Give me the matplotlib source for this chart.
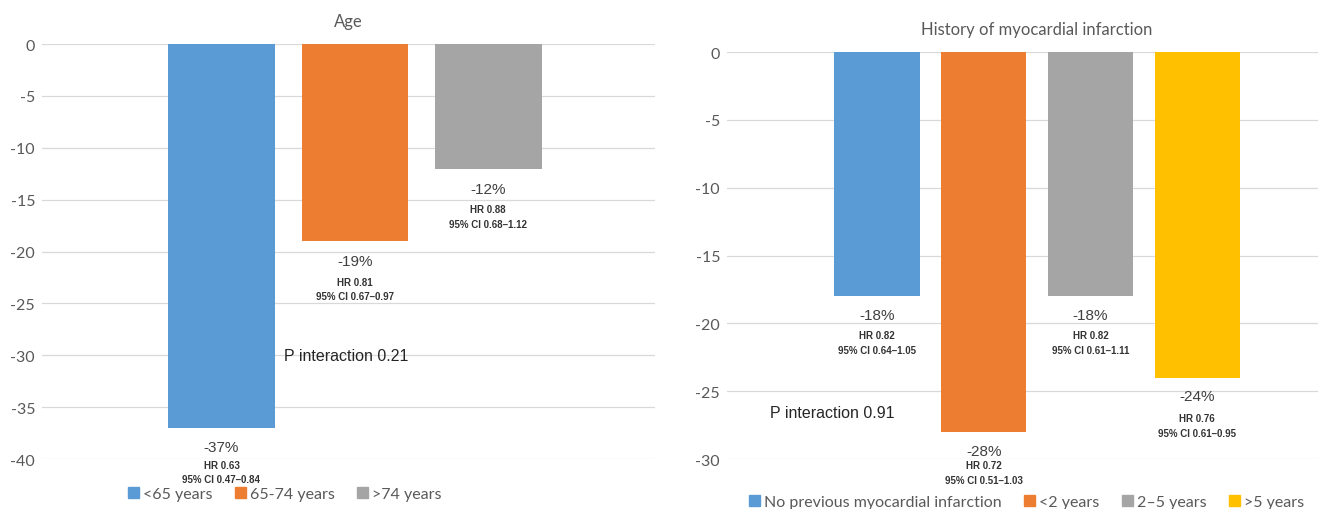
import matplotlib
matplotlib.use("Agg")
import matplotlib.pyplot as plt
from matplotlib.patches import Patch

# datos de los dos paneles
age_groups = ['<65 years', '65-74 years', '>74 years']
age_change = [-37, -19, -12]
age_hr = ['HR 0.63', 'HR 0.81', 'HR 0.88']
age_ci = ['95% CI 0.47\u20130.84', '95% CI 0.67\u20130.97', '95% CI 0.68\u20131.12']
age_p = 'P interaction 0.21'

mi_groups = ['No previous myocardial infarction', '<2 years', '2\u20135 years', '>5 years']
mi_change = [-18, -28, -18, -24]
mi_hr = ['HR 0.82', 'HR 0.72', 'HR 0.82', 'HR 0.76']
mi_ci = ['95% CI 0.64\u20131.05', '95% CI 0.51\u20131.03', '95% CI 0.61\u20131.11', '95% CI 0.61\u20130.95']
mi_p = 'P interaction 0.91'

colores = ['#5B9BD5', '#ED7D31', '#A5A5A5', '#FFC000']
gris_txt = '#595959'
calibri = ['Lato', 'DejaVu Sans']
arial = ['Liberation Sans', 'DejaVu Sans']

plt.rcParams['axes.unicode_minus'] = False  # guion normal en los ejes


def panel(ax, grupos, vals, hrs, cis, titulo, ymin, xlim, offs):
    x = list(range(len(grupos)))
    ax.bar(x, vals, width=0.8, color=colores[:len(grupos)], zorder=2)
    ax.set_xlim(*xlim)
    ax.set_ylim(ymin, 0)
    ax.set_yticks(range(ymin, 1, 5))
    ax.set_xticks([])
    ax.grid(axis='y', color='#D9D9D9', lw=0.9, zorder=0)
    ax.set_axisbelow(True)
    for s in ax.spines.values():
        s.set_visible(False)
    ax.tick_params(axis='y', length=0, pad=5, labelcolor=gris_txt, labelsize=11.5)
    for lab in ax.get_yticklabels():
        lab.set_family(calibri)
    ax.set_title(titulo, fontsize=12, color=gris_txt, family=calibri, pad=13)
    # etiquetas debajo de cada barra
    for i, v in enumerate(vals):
        o1, o2, o3 = offs[i]
        ax.annotate('%d%%' % v, (i, v), xytext=(0, -o1), textcoords='offset pixels',
                    ha='center', va='center', fontsize=11, color='#404040',
                    family=arial, annotation_clip=False)
        ax.annotate(hrs[i], (i, v), xytext=(0, -o2), textcoords='offset pixels',
                    ha='center', va='center', fontsize=7, color='#333333',
                    family=arial, weight='bold', annotation_clip=False)
        ax.annotate(cis[i], (i, v), xytext=(0, -o3), textcoords='offset pixels',
                    ha='center', va='center', fontsize=7, color='#333333',
                    family=arial, weight='bold', annotation_clip=False)


fig = plt.figure(figsize=(13.18, 5.10), dpi=100)

ax1 = fig.add_axes([0.0319, 0.098, 0.4651, 0.8137])
panel(ax1, age_groups, age_change, age_hr, age_ci, 'Age', -40, (-1.345, 3.25),
      [(19, 37, 51), (20, 41, 55), (20, 40, 55)])
ax1.text(0.465, -30.0, age_p, fontsize=11.5, family=arial, color='#262626',
         va='center', ha='left')

ax2 = fig.add_axes([0.5516, 0.098, 0.4697, 0.798])
panel(ax2, mi_groups, mi_change, mi_hr, mi_ci, 'History of myocardial infarction', -30,
      (-1.406, 4.395), [(19, 39, 54), (19, 33, 48), (19, 39, 54), (18, 40, 55)])
ax2.text(-1.0, -26.6, mi_p, fontsize=11.5, family=arial, color='#262626',
         va='center', ha='left')

# leyendas
h1 = [Patch(color=colores[i]) for i in range(3)]
fig.legend(h1, age_groups, loc='center', bbox_to_anchor=(0.216, 0.029), ncol=3,
           frameon=False, handlelength=0.7, handleheight=0.7, handletextpad=0.25,
           columnspacing=1.4, prop={'family': calibri, 'size': 11.5}, labelcolor=gris_txt)
h2 = [Patch(color=colores[i]) for i in range(4)]
fig.legend(h2, mi_groups, loc='center', bbox_to_anchor=(0.779, 0.013), ncol=4,
           frameon=False, handlelength=0.7, handleheight=0.7, handletextpad=0.25,
           columnspacing=1.4, prop={'family': calibri, 'size': 11.5}, labelcolor=gris_txt)

fig.savefig('out.png', dpi=100)
